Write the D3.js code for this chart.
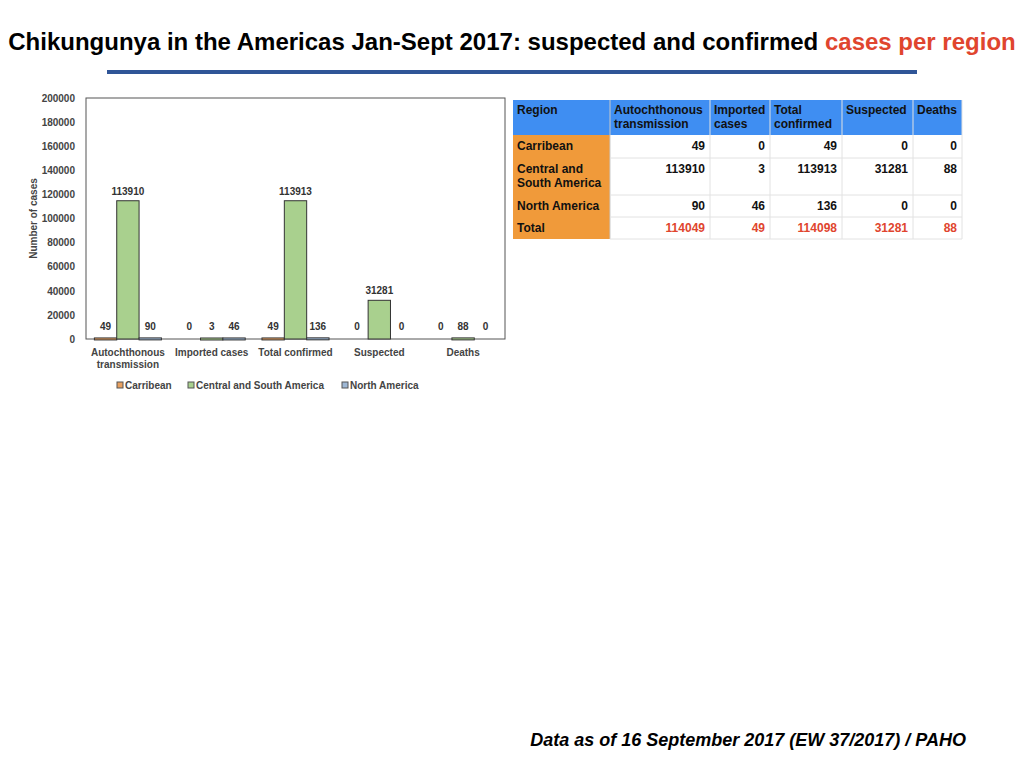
<!DOCTYPE html>
<html lang="en">
<head>
<meta charset="utf-8">
<script src="https://cdn.jsdelivr.net/npm/d3@7"></script>
<style>
  body { margin: 0; background: #fff; font-family: "Liberation Sans", Arial, sans-serif; }
  svg text { font-family: "Liberation Sans", Arial, sans-serif; }
</style>
</head>
<body>
<script>
// chart data
var categories = ["Autochthonous transmission", "Imported cases", "Total confirmed", "Suspected", "Deaths"];
var regions = ["Carribean", "Central and South America", "North America"];
var carribean = [49, 0, 49, 0, 0];
var centralSouth = [113910, 3, 113913, 31281, 88];
var northAmerica = [90, 46, 136, 0, 0];
var totals = [114049, 49, 114098, 31281, 88];
var yTicks = [0, 20000, 40000, 60000, 80000, 100000, 120000, 140000, 160000, 180000, 200000];

// table headers
var tableHeads = [["Region"], ["Autochthonous", "transmission"], ["Imported", "cases"], ["Total", "confirmed"], ["Suspected"], ["Deaths"]];
var rowNames = [["Carribean"], ["Central and", "South America"], ["North America"], ["Total"]];

var series = [carribean, centralSouth, northAmerica];
var colours = ["#e8a060", "#a9d08e", "#9db7d5"];

var W = 1024, H = 768;
var svg = d3.select("body").append("svg").attr("width", W).attr("height", H);

// title
var title = svg.append("text")
    .attr("x", 512).attr("y", 50)
    .attr("text-anchor", "middle")
    .attr("font-size", 24).attr("font-weight", "bold");
title.append("tspan").attr("fill", "#000").text("Chikungunya in the Americas Jan-Sept 2017: suspected and confirmed ");
title.append("tspan").attr("fill", "#e0452e").text("cases per region");

svg.append("line")
    .attr("x1", 107).attr("x2", 917).attr("y1", 72).attr("y2", 72)
    .attr("stroke", "#2f5597").attr("stroke-width", 4);

// chart area
var plot = {left: 86, right: 505, top: 98, bottom: 339};

var x0 = d3.scaleBand().domain(categories)
    .range([plot.left, plot.right])
    .paddingInner(0.2).paddingOuter(0.1);
var x1 = d3.scaleBand().domain(regions)
    .range([0, x0.bandwidth()]);
var y = d3.scaleLinear().domain([0, 200000]).range([plot.bottom, plot.top]);

var yAxis = svg.append("g")
    .attr("transform", "translate(" + (plot.left - 8) + ",0)")
    .call(d3.axisLeft(y).tickValues(yTicks).tickSize(0).tickFormat(d3.format("d")));
yAxis.select(".domain").remove();
yAxis.selectAll("text")
    .attr("font-size", 10).attr("font-weight", "bold").attr("fill", "#444")
    .style("font-family", "'Liberation Sans', Arial, sans-serif");

svg.append("rect")
    .attr("x", plot.left).attr("y", plot.top)
    .attr("width", plot.right - plot.left).attr("height", plot.bottom - plot.top)
    .attr("fill", "none").attr("stroke", "#555").attr("stroke-width", 1);

svg.append("text")
    .attr("transform", "translate(37," + ((plot.top + plot.bottom) / 2) + ") rotate(-90)")
    .attr("text-anchor", "middle")
    .attr("font-size", 10).attr("font-weight", "bold").attr("fill", "#444")
    .text("Number of cases");

// bars
var groups = svg.selectAll(".grp")
    .data(categories)
    .enter().append("g")
    .attr("transform", function(d) { return "translate(" + x0(d) + ",0)"; });

groups.each(function(cat, i) {
    var g = d3.select(this);
    regions.forEach(function(r, j) {
        var v = series[j][i];
        if (v > 0) {
            g.append("rect")
                .attr("x", x1(r)).attr("width", x1.bandwidth())
                .attr("y", y(v) - 1)
                .attr("height", Math.max(1, plot.bottom - y(v)) + 1)
                .attr("fill", colours[j]).attr("stroke", "#333").attr("stroke-width", 1);
        }
        g.append("text")
            .attr("x", x1(r) + x1.bandwidth() / 2)
            .attr("y", Math.min(y(v), plot.bottom - 2) - 7)
            .attr("text-anchor", "middle")
            .attr("font-size", 10).attr("font-weight", "bold").attr("fill", "#333")
            .text(v);
    });
});

// category labels
svg.selectAll(".cat")
    .data(categories)
    .enter().append("text")
    .attr("x", function(d) { return x0(d) + x0.bandwidth() / 2; })
    .attr("y", 356)
    .attr("text-anchor", "middle")
    .attr("font-size", 10).attr("font-weight", "bold").attr("fill", "#444")
    .each(function(d) {
        var t = d3.select(this);
        var parts = d === "Autochthonous transmission" ? ["Autochthonous", "transmission"] : [d];
        parts.forEach(function(p, k) {
            t.append("tspan").attr("x", x0(d) + x0.bandwidth() / 2).attr("dy", k ? 12 : 0).text(p);
        });
    });

// legend
var legendX = [117, 188, 342];
regions.forEach(function(r, j) {
    svg.append("rect")
        .attr("x", legendX[j]).attr("y", 382).attr("width", 6).attr("height", 6)
        .attr("fill", colours[j]).attr("stroke", "#555").attr("stroke-width", 1);
    svg.append("text")
        .attr("x", legendX[j] + 8).attr("y", 389)
        .attr("font-size", 10).attr("font-weight", "bold").attr("fill", "#444")
        .text(r);
});

// table
var colX = [513, 610, 710, 770, 842, 913, 962];
var rowY = [100, 135, 158, 195, 217, 239];
var tableRows = [carribean, centralSouth, northAmerica, totals];
var tbl = svg.append("g");

tbl.append("rect")
    .attr("x", colX[0]).attr("y", rowY[0])
    .attr("width", colX[6] - colX[0]).attr("height", rowY[1] - rowY[0])
    .attr("fill", "#3f8ef2");
tbl.append("rect")
    .attr("x", colX[0]).attr("y", rowY[1])
    .attr("width", colX[1] - colX[0]).attr("height", rowY[5] - rowY[1])
    .attr("fill", "#f09a3a");

// grid lines
for (var c = 1; c < 6; c++) {
    tbl.append("line")
        .attr("x1", colX[c]).attr("x2", colX[c]).attr("y1", rowY[0]).attr("y2", rowY[5])
        .attr("stroke", c === 1 ? "#c9c9c9" : "#e2e2e2").attr("stroke-width", 1);
}
for (var r = 2; r < 6; r++) {
    tbl.append("line")
        .attr("x1", colX[1]).attr("x2", colX[6]).attr("y1", rowY[r]).attr("y2", rowY[r])
        .attr("stroke", "#e2e2e2").attr("stroke-width", 1);
}
tbl.append("line")
    .attr("x1", colX[6]).attr("x2", colX[6]).attr("y1", rowY[0]).attr("y2", rowY[5])
    .attr("stroke", "#e2e2e2");

tableHeads.forEach(function(h, c) {
    h.forEach(function(line, k) {
        tbl.append("text")
            .attr("x", colX[c] + 4).attr("y", rowY[0] + 14 + k * 14)
            .attr("font-size", 12).attr("font-weight", "bold").attr("fill", "#111")
            .text(line);
    });
});

rowNames.forEach(function(n, rI) {
    n.forEach(function(line, k) {
        tbl.append("text")
            .attr("x", colX[0] + 4).attr("y", rowY[rI + 1] + 15 + k * 14)
            .attr("font-size", 12).attr("font-weight", "bold").attr("fill", "#111")
            .text(line);
    });
    tableRows[rI].forEach(function(v, c) {
        tbl.append("text")
            .attr("x", colX[c + 2] - 5).attr("y", rowY[rI + 1] + 15)
            .attr("text-anchor", "end")
            .attr("font-size", 12).attr("font-weight", "bold")
            .attr("fill", rI === 3 ? "#e0452e" : "#111")
            .text(v);
    });
});

// source note
svg.append("text")
    .attr("x", 966).attr("y", 746)
    .attr("text-anchor", "end")
    .attr("font-size", 18).attr("font-weight", "bold").attr("font-style", "italic")
    .text("Data as of 16 September 2017 (EW 37/2017) / PAHO");
</script>
</body>
</html>
